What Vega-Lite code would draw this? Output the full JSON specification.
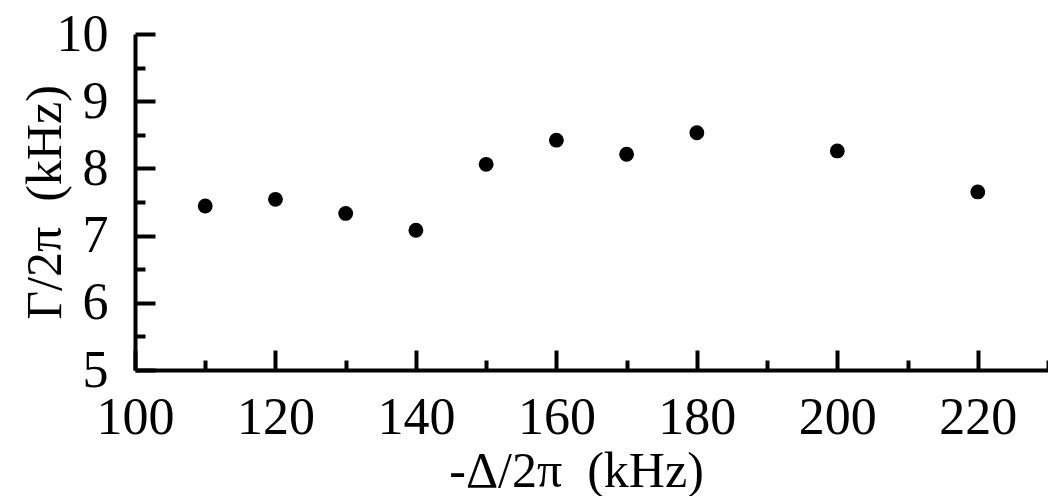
{
  "$schema": "https://vega.github.io/schema/vega-lite/v6.json",
  "width": 913,
  "height": 336,
  "autosize": {"type": "none"},
  "padding": {"left": 135, "top": 34, "right": 0, "bottom": 126},
  "background": "white",
  "config": {"view": {"stroke": null}, "font": "Liberation Serif"},
  "data": {
    "values": [
      {"detuning": 110, "gamma": 7.44},
      {"detuning": 120, "gamma": 7.54},
      {"detuning": 130, "gamma": 7.33},
      {"detuning": 140, "gamma": 7.08},
      {"detuning": 150, "gamma": 8.06},
      {"detuning": 160, "gamma": 8.42},
      {"detuning": 170, "gamma": 8.21},
      {"detuning": 180, "gamma": 8.53},
      {"detuning": 200, "gamma": 8.26},
      {"detuning": 220, "gamma": 7.65}
    ]
  },
  "mark": {"type": "point", "filled": true, "color": "black", "opacity": 1, "size": 220, "strokeWidth": 0},
  "encoding": {
    "x": {
      "field": "detuning",
      "type": "quantitative",
      "scale": {"domain": [100, 230], "nice": false, "zero": false},
      "axis": {
        "title": "-Δ/2π\u00a0\u00a0(kHz)",
        "values": [100, 110, 120, 130, 140, 150, 160, 170, 180, 190, 200, 210, 220, 230],
        "grid": false,
        "labelExpr": "datum.value % 20 === 0 ? format(datum.value, 'd') : ''",
        "labelOverlap": false,
        "labelFlush": false,
        "labelFont": "Liberation Serif",
        "labelFontSize": 52,
        "labelColor": "black",
        "labelBaseline": "alphabetic",
        "labelPadding": 83,
        "tickSize": {"condition": {"test": "datum.value % 20 === 0", "value": -20}, "value": -10},
        "tickWidth": 4,
        "tickColor": "black",
        "domainColor": "black",
        "domainWidth": 4,
        "titleFont": "Liberation Serif",
        "titleFontSize": 50,
        "titleFontWeight": "normal",
        "titleColor": "black",
        "titleBaseline": "alphabetic",
        "titleAlign": "center",
        "titleX": 441,
        "titleY": 116
      }
    },
    "y": {
      "field": "gamma",
      "type": "quantitative",
      "scale": {"domain": [5, 10], "nice": false, "zero": false},
      "axis": {
        "title": "Γ/2π\u00a0\u00a0(kHz)",
        "values": [5, 5.5, 6, 6.5, 7, 7.5, 8, 8.5, 9, 9.5, 10],
        "grid": false,
        "labelExpr": "datum.value % 1 === 0 ? format(datum.value, 'd') : ''",
        "labelOverlap": false,
        "labelFlush": false,
        "labelFont": "Liberation Serif",
        "labelFontSize": 52,
        "labelColor": "black",
        "labelBaseline": "middle",
        "labelPadding": 47,
        "tickSize": {"condition": {"test": "datum.value % 1 === 0", "value": -20}, "value": -10},
        "tickWidth": 4,
        "tickColor": "black",
        "domainColor": "black",
        "domainWidth": 4,
        "titleFont": "Liberation Serif",
        "titleFontSize": 50,
        "titleFontWeight": "normal",
        "titleColor": "black",
        "titleAngle": -90,
        "titleBaseline": "alphabetic",
        "titleAlign": "center",
        "titleX": -75,
        "titleY": 168
      }
    }
  }
}
